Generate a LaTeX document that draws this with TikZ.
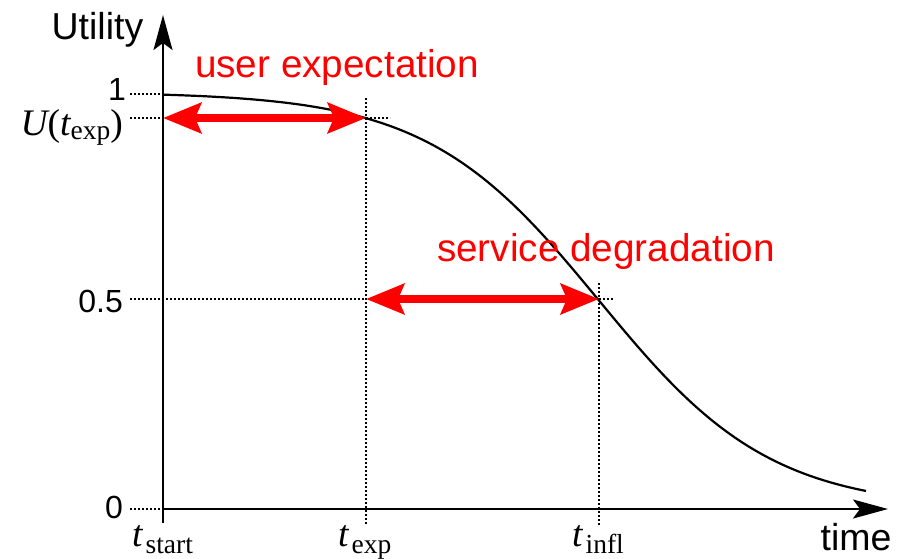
\documentclass[tikz,border=0pt]{standalone}
\usepackage{fontspec}
\setmainfont{Liberation Sans}
\newfontfamily\tms{Liberation Serif}
\usetikzlibrary{arrows.meta}

% variable with an upright subscript, set in a Times-like face
\newcommand{\tvar}[4]{{\tms\fontsize{37.5}{37.5}\selectfont\itshape #1}\kern#4\raisebox{#3}{\tms\fontsize{27.5}{27.5}\selectfont #2}}

\tikzset{
  axis/.style={line width=2.2pt, -{Stealth[length=35pt, width=19pt, inset=7pt]}},
  guide/.style={line width=2pt, dash pattern=on 2pt off 2pt},
  span/.style={red, line width=8.5pt,
    {Stealth[length=38pt, width=30pt, inset=6pt]}-{Stealth[length=38pt, width=30pt, inset=6pt]}},
  lbl/.style={font=\fontsize{37.5}{37.5}\selectfont, inner sep=0pt},
  num/.style={font=\fontsize{32}{32}\selectfont, inner sep=0pt, anchor=base east},
  redlbl/.style={font=\fontsize{38.7}{38.7}\selectfont, inner sep=0pt, text=red, anchor=base}
}

\begin{document}
\begin{tikzpicture}[x=1pt, y=-1pt]
\useasboundingbox (0,0) rectangle (909,558);

% axes
\coordinate (O) at (163,509);
\coordinate (ybot) at (163,523);
\coordinate (ytip) at (163,15);
\coordinate (xtip) at (888,509);

% reference points on the curve
\coordinate (one) at (163,94);
\coordinate (uexp) at (163,118);
\coordinate (pexp) at (366,118);
\coordinate (half) at (163,299);
\coordinate (hexp) at (366,299);
\coordinate (pinf) at (599,299);

% dotted guide lines
\draw[guide] (130,94) -- (one);
\draw[guide] (130,118) -- (uexp);
\draw[guide] (pexp) -- (390,118);
\draw[guide] (366,98) -- (366,525);
\draw[guide] (130,299) -- (hexp);
\draw[guide] (pinf) -- (614,299);
\draw[guide] (599,283) -- (599,525);
\draw[guide] (130,509) -- (O);

% axes
\draw[axis] (ybot) -- (ytip);
\draw[axis] (O) -- (xtip);

% utility curve (logistic decay, inflection at t_infl)
\draw[line width=2.2pt, domain=163:866, samples=120, smooth]
  plot (\x, {509 - 417/(1 + exp(0.0116*(\x - 599)))});

% intervals
\draw[span] (uexp) -- (pexp);
\draw[span] (hexp) -- (pinf);

% axis titles
\node[lbl, anchor=base] (ylab) at (97.5,39) {Utility};
\node[lbl, anchor=base] (xlab) at (856,550) {time};

% tick values
\node[num] (n1) at (126,100) {1};
\node[num] (n05) at (123,312) {0.5};
\node[num] (n0) at (123,518) {0};
\node[inner sep=0pt, anchor=base east] (nu) at (123,135)
  {{\tms\fontsize{37.5}{37.5}\selectfont\itshape U}{\tms\fontsize{37.5}{37.5}\selectfont(}\tvar{t}{exp}{-4pt}{0pt}{\tms\fontsize{37.5}{37.5}\selectfont)}};

% time marks
\node[inner sep=0pt, anchor=base west] (tstart) at (132,546) {\tvar{t}{start}{-7pt}{3pt}};
\node[inner sep=0pt, anchor=base west] (texp) at (338,546) {\tvar{t}{exp}{-7pt}{3pt}};
\node[inner sep=0pt, anchor=base west] (tinfl) at (572,546) {\tvar{t}{infl}{-7pt}{3pt}};

% interval labels
\node[redlbl] (ue) at (337,77) {user expectation};
\node[redlbl] (sd) at (606,261) {service degradation};
\end{tikzpicture}
\end{document}
